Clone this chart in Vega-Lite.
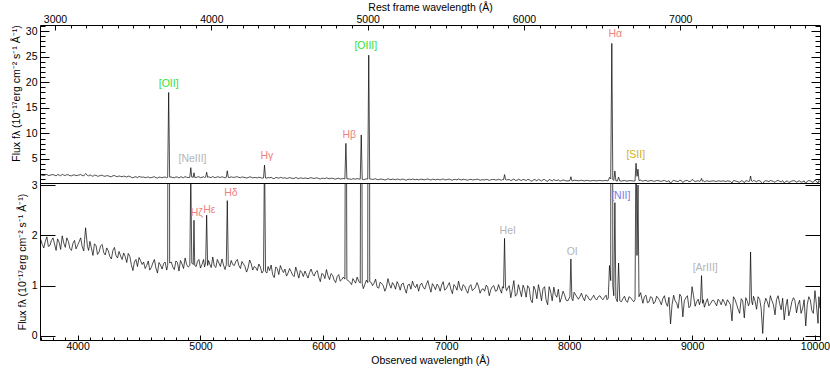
{
"$schema": "https://vega.github.io/schema/vega-lite/v6.json",
"padding": {"left": 10, "top": 2, "right": 5, "bottom": 0},
"background": "white",
"spacing": 0,
"bounds": "flush",
"datasets": {
"spec": [
{"w":3700,"f":1.92},{"w":3725,"f":1.75},{"w":3750,"f":1.97},{"w":3775,"f":1.80},{"w":3800,"f":1.95},{"w":3825,"f":1.70},{"w":3850,"f":1.86},{"w":3875,"f":1.99},{"w":3900,"f":1.76},{"w":3925,"f":1.88},{"w":3950,"f":1.70},{"w":3975,"f":1.90},{"w":4000,"f":1.80},{"w":4025,"f":1.95},{"w":4050,"f":1.69},{"w":4065,"f":2.15},{"w":4080,"f":1.78},{"w":4100,"f":1.88},{"w":4125,"f":1.60},{"w":4150,"f":1.80},{"w":4175,"f":1.67},{"w":4200,"f":1.82},{"w":4225,"f":1.61},{"w":4250,"f":1.69},{"w":4275,"f":1.53},{"w":4300,"f":1.76},{"w":4325,"f":1.55},{"w":4350,"f":1.59},{"w":4375,"f":1.65},{"w":4400,"f":1.46},{"w":4425,"f":1.58},{"w":4450,"f":1.30},{"w":4475,"f":1.52},{"w":4500,"f":1.56},{"w":4525,"f":1.42},{"w":4550,"f":1.34},{"w":4575,"f":1.49},{"w":4600,"f":1.36},{"w":4625,"f":1.52},{"w":4650,"f":1.25},{"w":4675,"f":1.41},{"w":4700,"f":1.44},{"w":4725,"f":1.31},{"w":4733,"f":1.40},{"w":4741,"f":18.0},{"w":4749,"f":1.45},{"w":4775,"f":1.37},{"w":4800,"f":1.49},{"w":4825,"f":1.29},{"w":4850,"f":1.43},{"w":4875,"f":1.55},{"w":4900,"f":1.37},{"w":4913,"f":1.40},{"w":4921,"f":3.3},{"w":4929,"f":1.45},{"w":4941,"f":1.42},{"w":4947,"f":2.3},{"w":4953,"f":1.40},{"w":4975,"f":1.48},{"w":5000,"f":1.35},{"w":5025,"f":1.52},{"w":5042,"f":1.45},{"w":5050,"f":2.4},{"w":5058,"f":1.40},{"w":5075,"f":1.43},{"w":5100,"f":1.57},{"w":5125,"f":1.36},{"w":5150,"f":1.45},{"w":5175,"f":1.53},{"w":5200,"f":1.32},{"w":5210,"f":1.42},{"w":5218,"f":2.69},{"w":5226,"f":1.40},{"w":5250,"f":1.50},{"w":5275,"f":1.40},{"w":5300,"f":1.52},{"w":5325,"f":1.34},{"w":5350,"f":1.43},{"w":5375,"f":1.27},{"w":5400,"f":1.51},{"w":5425,"f":1.31},{"w":5450,"f":1.36},{"w":5475,"f":1.43},{"w":5500,"f":1.25},{"w":5513,"f":1.30},{"w":5521,"f":3.8},{"w":5529,"f":1.28},{"w":5550,"f":1.38},{"w":5575,"f":1.41},{"w":5600,"f":1.16},{"w":5625,"f":1.34},{"w":5650,"f":1.40},{"w":5675,"f":1.26},{"w":5700,"f":1.19},{"w":5725,"f":1.34},{"w":5750,"f":1.21},{"w":5775,"f":1.37},{"w":5800,"f":1.15},{"w":5825,"f":1.26},{"w":5850,"f":1.29},{"w":5875,"f":1.15},{"w":5900,"f":1.33},{"w":5925,"f":1.19},{"w":5950,"f":1.30},{"w":5975,"f":1.08},{"w":6000,"f":1.22},{"w":6025,"f":1.32},{"w":6050,"f":1.12},{"w":6075,"f":1.21},{"w":6100,"f":1.06},{"w":6125,"f":1.22},{"w":6150,"f":1.12},{"w":6175,"f":1.13},{"w":6183,"f":8.05},{"w":6191,"f":1.12},{"w":6212,"f":1.08},{"w":6230,"f":1.02},{"w":6250,"f":1.10},{"w":6275,"f":1.17},{"w":6300,"f":1.05},{"w":6308,"f":9.7},{"w":6316,"f":1.04},{"w":6325,"f":0.94},{"w":6350,"f":1.11},{"w":6361,"f":1.06},{"w":6369,"f":25.3},{"w":6377,"f":1.08},{"w":6400,"f":1.00},{"w":6425,"f":1.13},{"w":6450,"f":0.95},{"w":6475,"f":1.04},{"w":6500,"f":0.89},{"w":6525,"f":1.14},{"w":6550,"f":0.95},{"w":6575,"f":1.01},{"w":6600,"f":1.08},{"w":6625,"f":0.91},{"w":6650,"f":1.05},{"w":6675,"f":0.85},{"w":6700,"f":1.03},{"w":6725,"f":1.09},{"w":6750,"f":0.96},{"w":6775,"f":0.89},{"w":6800,"f":1.05},{"w":6825,"f":0.93},{"w":6850,"f":1.10},{"w":6875,"f":0.87},{"w":6900,"f":0.99},{"w":6925,"f":1.03},{"w":6950,"f":0.89},{"w":6975,"f":1.08},{"w":7000,"f":0.94},{"w":7025,"f":1.06},{"w":7050,"f":0.84},{"w":7075,"f":0.98},{"w":7100,"f":1.09},{"w":7125,"f":0.90},{"w":7150,"f":0.99},{"w":7175,"f":0.85},{"w":7200,"f":1.02},{"w":7225,"f":0.93},{"w":7250,"f":1.06},{"w":7275,"f":0.85},{"w":7300,"f":0.94},{"w":7325,"f":1.01},{"w":7350,"f":0.80},{"w":7375,"f":0.98},{"w":7400,"f":0.89},{"w":7425,"f":1.02},{"w":7450,"f":0.85},{"w":7466,"f":0.95},{"w":7474,"f":1.94},{"w":7482,"f":0.98},{"w":7500,"f":0.95},{"w":7525,"f":0.76},{"w":7550,"f":1.10},{"w":7575,"f":0.83},{"w":7600,"f":0.90},{"w":7625,"f":1.01},{"w":7650,"f":0.77},{"w":7675,"f":0.95},{"w":7700,"f":0.66},{"w":7725,"f":0.91},{"w":7750,"f":1.02},{"w":7775,"f":0.70},{"w":7800,"f":0.98},{"w":7825,"f":0.62},{"w":7850,"f":0.87},{"w":7875,"f":0.97},{"w":7900,"f":0.77},{"w":7925,"f":0.67},{"w":7950,"f":0.89},{"w":7975,"f":0.71},{"w":8006,"f":0.78},{"w":8014,"f":1.53},{"w":8022,"f":0.74},{"w":8040,"f":0.87},{"w":8075,"f":0.73},{"w":8100,"f":0.85},{"w":8125,"f":0.70},{"w":8150,"f":0.79},{"w":8175,"f":0.71},{"w":8200,"f":0.81},{"w":8225,"f":0.72},{"w":8250,"f":0.80},{"w":8275,"f":0.72},{"w":8300,"f":0.81},{"w":8318,"f":0.75},{"w":8328,"f":1.40},{"w":8338,"f":1.10},{"w":8347,"f":27.6},{"w":8355,"f":1.00},{"w":8363,"f":0.80},{"w":8372,"f":2.65},{"w":8380,"f":0.75},{"w":8392,"f":0.68},{"w":8402,"f":1.45},{"w":8412,"f":0.70},{"w":8425,"f":0.68},{"w":8450,"f":0.79},{"w":8475,"f":0.67},{"w":8500,"f":0.76},{"w":8525,"f":0.68},{"w":8536,"f":0.72},{"w":8544,"f":4.16},{"w":8552,"f":1.60},{"w":8560,"f":3.00},{"w":8568,"f":0.78},{"w":8582,"f":0.86},{"w":8600,"f":0.65},{"w":8625,"f":0.81},{"w":8650,"f":0.68},{"w":8675,"f":0.76},{"w":8700,"f":0.68},{"w":8725,"f":0.75},{"w":8750,"f":0.62},{"w":8775,"f":0.80},{"w":8800,"f":0.59},{"w":8825,"f":0.24},{"w":8850,"f":0.81},{"w":8875,"f":0.65},{"w":8900,"f":0.83},{"w":8925,"f":0.38},{"w":8950,"f":0.76},{"w":8975,"f":0.56},{"w":9000,"f":0.98},{"w":9025,"f":0.59},{"w":9050,"f":0.73},{"w":9069,"f":0.70},{"w":9077,"f":1.20},{"w":9085,"f":0.65},{"w":9100,"f":0.57},{"w":9125,"f":0.74},{"w":9150,"f":0.64},{"w":9175,"f":0.71},{"w":9200,"f":0.60},{"w":9225,"f":0.69},{"w":9250,"f":0.73},{"w":9275,"f":0.60},{"w":9300,"f":0.67},{"w":9325,"f":0.30},{"w":9350,"f":0.72},{"w":9375,"f":0.53},{"w":9400,"f":0.74},{"w":9425,"f":0.36},{"w":9450,"f":0.69},{"w":9468,"f":0.66},{"w":9476,"f":1.67},{"w":9484,"f":0.70},{"w":9500,"f":0.79},{"w":9525,"f":0.53},{"w":9550,"f":0.73},{"w":9575,"f":0.05},{"w":9600,"f":0.75},{"w":9625,"f":0.57},{"w":9650,"f":0.70},{"w":9675,"f":0.42},{"w":9700,"f":0.80},{"w":9725,"f":0.52},{"w":9750,"f":0.32},{"w":9775,"f":0.73},{"w":9800,"f":0.53},{"w":9825,"f":0.76},{"w":9850,"f":0.46},{"w":9875,"f":0.71},{"w":9900,"f":0.55},{"w":9925,"f":0.20},{"w":9950,"f":0.78},{"w":9975,"f":0.50},{"w":10000,"f":0.90},{"w":10025,"f":0.25},{"w":10040,"f":0.55},
{"w":3712,"f":1.82},{"w":3737,"f":1.88},{"w":3762,"f":1.78},{"w":3787,"f":1.90},{"w":3812,"f":1.83},{"w":3837,"f":1.93},{"w":3862,"f":1.72},{"w":3887,"f":1.85},{"w":3912,"f":1.95},{"w":3937,"f":1.74},{"w":3962,"f":1.84},{"w":3987,"f":1.73},{"w":4012,"f":1.87},{"w":4037,"f":1.78},{"w":4057,"f":1.92},{"w":4090,"f":1.70},{"w":4112,"f":1.75},{"w":4137,"f":1.83},{"w":4162,"f":1.62},{"w":4187,"f":1.79},{"w":4212,"f":1.66},{"w":4237,"f":1.75},{"w":4262,"f":1.58},{"w":4287,"f":1.70},{"w":4312,"f":1.60},{"w":4337,"f":1.68},{"w":4362,"f":1.52},{"w":4387,"f":1.58},{"w":4412,"f":1.64},{"w":4437,"f":1.42},{"w":4462,"f":1.47},{"w":4487,"f":1.38},{"w":4512,"f":1.50},{"w":4537,"f":1.47},{"w":4562,"f":1.40},{"w":4587,"f":1.31},{"w":4612,"f":1.45},{"w":4637,"f":1.35},{"w":4662,"f":1.46},{"w":4687,"f":1.33},{"w":4712,"f":1.47},{"w":4762,"f":1.47},{"w":4787,"f":1.32},{"w":4812,"f":1.46},{"w":4837,"f":1.50},{"w":4862,"f":1.34},{"w":4887,"f":1.42},{"w":4965,"f":1.38},{"w":4987,"f":1.52},{"w":5012,"f":1.42},{"w":5033,"f":1.37},{"w":5066,"f":1.50},{"w":5087,"f":1.36},{"w":5112,"f":1.39},{"w":5137,"f":1.52},{"w":5162,"f":1.38},{"w":5187,"f":1.41},{"w":5237,"f":1.37},{"w":5262,"f":1.42},{"w":5287,"f":1.48},{"w":5312,"f":1.40},{"w":5337,"f":1.48},{"w":5362,"f":1.38},{"w":5387,"f":1.35},{"w":5412,"f":1.44},{"w":5437,"f":1.38},{"w":5462,"f":1.30},{"w":5487,"f":1.37},{"w":5540,"f":1.25},{"w":5562,"f":1.30},{"w":5587,"f":1.22},{"w":5612,"f":1.37},{"w":5637,"f":1.22},{"w":5662,"f":1.32},{"w":5687,"f":1.33},{"w":5712,"f":1.25},{"w":5737,"f":1.28},{"w":5762,"f":1.18},{"w":5787,"f":1.27},{"w":5812,"f":1.30},{"w":5837,"f":1.18},{"w":5862,"f":1.22},{"w":5887,"f":1.26},{"w":5912,"f":1.24},{"w":5937,"f":1.27},{"w":5962,"f":1.17},{"w":5987,"f":1.24},{"w":6012,"f":1.14},{"w":6037,"f":1.20},{"w":6062,"f":1.24},{"w":6087,"f":1.11},{"w":6112,"f":1.18},{"w":6137,"f":1.09},{"w":6162,"f":1.17},{"w":6240,"f":1.14},{"w":6262,"f":1.05},{"w":6287,"f":1.09},{"w":6338,"f":1.03},{"w":6390,"f":1.06},{"w":6412,"f":1.05},{"w":6437,"f":0.97},{"w":6462,"f":1.07},{"w":6487,"f":1.00},{"w":6512,"f":0.96},{"w":6537,"f":1.03},{"w":6562,"f":1.06},{"w":6587,"f":0.93},{"w":6612,"f":1.02},{"w":6637,"f":1.03},{"w":6662,"f":0.94},{"w":6687,"f":1.01},{"w":6712,"f":0.93},{"w":6737,"f":1.00},{"w":6762,"f":1.03},{"w":6787,"f":1.01},{"w":6812,"f":0.97},{"w":6837,"f":1.02},{"w":6862,"f":0.98},{"w":6887,"f":1.04},{"w":6912,"f":0.92},{"w":6937,"f":0.99},{"w":6962,"f":1.01},{"w":6987,"f":0.91},{"w":7012,"f":1.00},{"w":7037,"f":0.93},{"w":7062,"f":1.02},{"w":7087,"f":0.91},{"w":7112,"f":0.95},{"w":7137,"f":1.02},{"w":7162,"f":0.91},{"w":7187,"f":0.98},{"w":7212,"f":0.90},{"w":7237,"f":0.97},{"w":7262,"f":0.99},{"w":7287,"f":0.92},{"w":7312,"f":0.89},{"w":7337,"f":0.97},{"w":7362,"f":0.92},{"w":7387,"f":1.00},{"w":7412,"f":0.90},{"w":7437,"f":0.93},{"w":7457,"f":0.98},{"w":7490,"f":0.90},{"w":7512,"f":1.00},{"w":7537,"f":0.92},{"w":7562,"f":0.79},{"w":7587,"f":1.02},{"w":7612,"f":0.78},{"w":7637,"f":0.93},{"w":7662,"f":1.00},{"w":7687,"f":0.72},{"w":7712,"f":0.99},{"w":7737,"f":0.74},{"w":7762,"f":0.88},{"w":7787,"f":0.94},{"w":7812,"f":0.72},{"w":7837,"f":0.98},{"w":7862,"f":0.70},{"w":7887,"f":0.82},{"w":7912,"f":0.93},{"w":7937,"f":0.76},{"w":7962,"f":0.82},{"w":7990,"f":0.70},{"w":8030,"f":0.70},{"w":8057,"f":0.80},{"w":8087,"f":0.78},{"w":8112,"f":0.76},{"w":8137,"f":0.82},{"w":8162,"f":0.73},{"w":8187,"f":0.76},{"w":8212,"f":0.74},{"w":8237,"f":0.78},{"w":8262,"f":0.75},{"w":8287,"f":0.77},{"w":8308,"f":0.72},{"w":8437,"f":0.74},{"w":8462,"f":0.70},{"w":8487,"f":0.78},{"w":8512,"f":0.72},{"w":8591,"f":0.74},{"w":8612,"f":0.78},{"w":8637,"f":0.66},{"w":8662,"f":0.78},{"w":8687,"f":0.64},{"w":8712,"f":0.79},{"w":8737,"f":0.70},{"w":8762,"f":0.74},{"w":8787,"f":0.66},{"w":8812,"f":0.77},{"w":8837,"f":0.62},{"w":8862,"f":0.70},{"w":8887,"f":0.55},{"w":8912,"f":0.78},{"w":8937,"f":0.70},{"w":8962,"f":0.80},{"w":8987,"f":0.60},{"w":9012,"f":0.80},{"w":9037,"f":0.68},{"w":9060,"f":0.62},{"w":9092,"f":0.72},{"w":9112,"f":0.66},{"w":9137,"f":0.60},{"w":9162,"f":0.70},{"w":9187,"f":0.66},{"w":9212,"f":0.73},{"w":9237,"f":0.62},{"w":9262,"f":0.67},{"w":9287,"f":0.72},{"w":9312,"f":0.62},{"w":9337,"f":0.78},{"w":9362,"f":0.63},{"w":9387,"f":0.45},{"w":9412,"f":0.70},{"w":9437,"f":0.76},{"w":9459,"f":0.60},{"w":9492,"f":0.62},{"w":9512,"f":0.70},{"w":9537,"f":0.78},{"w":9562,"f":0.55},{"w":9587,"f":0.62},{"w":9612,"f":0.68},{"w":9637,"f":0.80},{"w":9662,"f":0.62},{"w":9687,"f":0.72},{"w":9712,"f":0.65},{"w":9737,"f":0.75},{"w":9762,"f":0.58},{"w":9787,"f":0.40},{"w":9812,"f":0.68},{"w":9837,"f":0.70},{"w":9862,"f":0.62},{"w":9887,"f":0.45},{"w":9912,"f":0.72},{"w":9937,"f":0.62},{"w":9962,"f":0.72},{"w":9987,"f":0.45},{"w":10012,"f":0.62},{"w":10032,"f":0.78}
],
"top": [
{"t":"[OII]","w":4741,"v":19.75,"k":"O","rest":3727},
{"t":"[NeIII]","w":4935,"v":4.9,"k":"gray","rest":3869},
{"t":"Hγ","w":5540,"v":5.5,"k":"H","rest":4340},
{"t":"Hβ","w":6211,"v":9.7,"k":"H","rest":4861},
{"t":"[OIII]","w":6345,"v":27.07,"k":"O","rest":5007},
{"t":"Hα","w":8375,"v":29.4,"k":"H","rest":6563},
{"t":"[SII]","w":8542,"v":5.78,"k":"S","rest":6717}
],
"bot": [
{"t":"Hζ","w":4970,"v":2.45,"k":"H"},
{"t":"Hε","w":5072,"v":2.51,"k":"H"},
{"t":"Hδ","w":5247,"v":2.85,"k":"H"},
{"t":"HeI","w":7500,"v":2.09,"k":"gray"},
{"t":"OI","w":8025,"v":1.67,"k":"gray"},
{"t":"[NII]","w":8420,"v":2.78,"k":"N"},
{"t":"[ArIII]","w":9107,"v":1.35,"k":"gray"}
]
},
"config": {
"view": {"stroke": "#000", "strokeWidth": 1},
"axis": {"domain": false, "grid": false, "labelFont": "Liberation Sans", "titleFont": "Liberation Sans", "labelFontSize": 10.5, "titleFontSize": 10.5, "titleFontWeight": "normal", "labelColor": "#000", "titleColor": "#000", "tickColor": "#000", "tickWidth": 1, "labelFlush": false, "labelOverlap": false},
"text": {"font": "Liberation Sans", "fontSize": 10.5}
},
"vconcat": [
{
"width": 780, "height": 158,
"resolve": {"scale": {"x": "independent", "y": "independent"}},
"layer": [
{"data": {"name": "spec"}, "mark": {"type": "line", "color": "#000", "strokeWidth": 0.7, "clip": true},
 "encoding": {
  "x": {"field": "w", "type": "quantitative", "scale": {"domain": [3694, 10041], "nice": false, "zero": false}, "axis": null},
  "y": {"field": "f", "type": "quantitative", "scale": {"domain": [0.3, 31.2], "nice": false, "zero": false},
   "axis": {"orient": "left", "values": [1,2,3,4,5,6,7,8,9,10,11,12,13,14,15,16,17,18,19,20,21,22,23,24,25,26,27,28,29,30,31],
    "tickSize": {"condition": {"test": "datum.value % 5 === 0", "value": -9}, "value": -5},
    "labelPadding": 12, "labelExpr": "datum.value % 5 === 0 ? datum.label : ''",
    "title": "Flux fλ (10⁻¹⁷erg cm⁻² s⁻¹ Å⁻¹)", "titlePadding": 4, "titleY": 68}}
 }},
{"data": {"name": "top"}, "mark": {"type": "text", "baseline": "middle", "align": "center"},
 "encoding": {
  "x": {"field": "w", "type": "quantitative", "scale": {"domain": [3694, 10041], "nice": false, "zero": false}, "axis": null},
  "y": {"field": "v", "type": "quantitative", "scale": {"domain": [0.3, 31.2], "nice": false, "zero": false}, "axis": null},
  "text": {"field": "t"},
  "color": {"field": "k", "type": "nominal", "scale": {"domain": ["O", "H", "gray", "S", "N"], "range": ["#33e033", "#f07f7f", "#b4b4b4", "#d2b21e", "#7b7be6"]}, "legend": null}
 }},
{"data": {"name": "top"}, "mark": {"type": "point", "opacity": 0},
 "encoding": {
  "x": {"field": "rest", "type": "quantitative", "scale": {"domain": [2904, 7894], "nice": false, "zero": false},
   "axis": {"orient": "top", "values": [3000,3100,3200,3300,3400,3500,3600,3700,3800,3900,4000,4100,4200,4300,4400,4500,4600,4700,4800,4900,5000,5100,5200,5300,5400,5500,5600,5700,5800,5900,6000,6100,6200,6300,6400,6500,6600,6700,6800,6900,7000,7100,7200,7300,7400,7500,7600,7700,7800],
    "tickSize": {"condition": {"test": "datum.value % 1000 === 0", "value": -5}, "value": -3},
    "labelPadding": 5.5, "format": "d", "labelExpr": "datum.value % 1000 === 0 ? datum.label : ''",
    "title": "Rest frame wavelength (Å)", "titlePadding": 0}}
 }},
{"data": {"name": "top"}, "mark": {"type": "point", "opacity": 0},
 "encoding": {
  "y": {"field": "v", "type": "quantitative", "scale": {"domain": [0.3, 31.2], "nice": false, "zero": false},
   "axis": {"orient": "right", "values": [1,2,3,4,5,6,7,8,9,10,11,12,13,14,15,16,17,18,19,20,21,22,23,24,25,26,27,28,29,30,31],
    "tickSize": {"condition": {"test": "datum.value % 5 === 0", "value": -9}, "value": -5},
    "labels": false, "title": null}}
 }}
]
},
{
"width": 780, "height": 157,
"resolve": {"scale": {"x": "independent", "y": "independent"}},
"layer": [
{"data": {"name": "spec"}, "mark": {"type": "line", "color": "#000", "strokeWidth": 0.7, "clip": true},
 "encoding": {
  "x": {"field": "w", "type": "quantitative", "scale": {"domain": [3694, 10041], "nice": false, "zero": false},
   "axis": {"orient": "bottom", "values": [3700,3800,3900,4000,4100,4200,4300,4400,4500,4600,4700,4800,4900,5000,5100,5200,5300,5400,5500,5600,5700,5800,5900,6000,6100,6200,6300,6400,6500,6600,6700,6800,6900,7000,7100,7200,7300,7400,7500,7600,7700,7800,7900,8000,8100,8200,8300,8400,8500,8600,8700,8800,8900,9000,9100,9200,9300,9400,9500,9600,9700,9800,9900,10000],
    "tickSize": {"condition": {"test": "datum.value % 1000 === 0", "value": -5}, "value": -3},
    "labelPadding": 6, "format": "d", "labelExpr": "datum.value % 1000 === 0 ? datum.label : ''",
    "title": "Observed wavelength (Å)", "titlePadding": 2}},
  "y": {"field": "f", "type": "quantitative", "scale": {"domain": [-0.08, 3.04], "nice": false, "zero": false},
   "axis": {"orient": "left", "values": [0, 1, 2, 3], "tickSize": -15, "labelPadding": 18,
    "title": "Flux fλ (10⁻¹⁷erg cm⁻² s⁻¹ Å⁻¹)", "titlePadding": 4}}
 }},
{"data": {"name": "bot"}, "mark": {"type": "text", "baseline": "middle", "align": "center"},
 "encoding": {
  "x": {"field": "w", "type": "quantitative", "scale": {"domain": [3694, 10041], "nice": false, "zero": false}, "axis": null},
  "y": {"field": "v", "type": "quantitative", "scale": {"domain": [-0.08, 3.04], "nice": false, "zero": false}, "axis": null},
  "text": {"field": "t"},
  "color": {"field": "k", "type": "nominal", "scale": {"domain": ["O", "H", "gray", "S", "N"], "range": ["#33e033", "#f07f7f", "#b4b4b4", "#d2b21e", "#7b7be6"]}, "legend": null}
 }},
{"data": {"name": "bot"}, "mark": {"type": "point", "opacity": 0},
 "encoding": {
  "y": {"field": "v", "type": "quantitative", "scale": {"domain": [-0.08, 3.04], "nice": false, "zero": false},
   "axis": {"orient": "right", "values": [0, 1, 2, 3], "tickSize": -15, "labels": false, "title": null}}
 }}
]
}
]
}
